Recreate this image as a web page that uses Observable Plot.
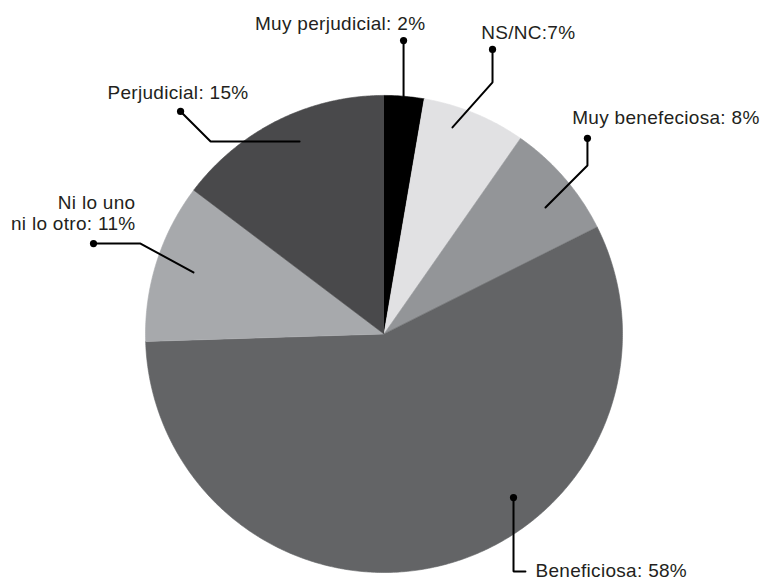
<!DOCTYPE html>
<html>
<head>
<meta charset="utf-8">
<script src="https://cdn.jsdelivr.net/npm/d3@7"></script>
<script src="https://cdn.jsdelivr.net/npm/@observablehq/plot@0.6"></script>
<style>
  html, body { margin: 0; padding: 0; background: #fff; }
  #chart svg { display: block; }
</style>
</head>
<body>
<div id="chart"></div>
<script>
// ---- data ----
const categories = ["Muy perjudicial", "NS/NC", "Muy benefeciosa", "Beneficiosa", "Ni lo uno ni lo otro", "Perjudicial"];
const shares = [2.7, 7.0, 7.9, 56.9, 10.8, 14.7];
const labels = ["Muy perjudicial: 2%", "NS/NC:7%", "Muy benefeciosa: 8%", "Beneficiosa: 58%", "Ni lo uno\nni lo otro: 11%", "Perjudicial: 15%"];
const colors = ["#000000", "#e1e1e3", "#939598", "#636466", "#a7a9ac", "#49494b"];

// label annotations, in pie units (radius = 1, centre = 0,0)
const labelAnchor = ["middle", "middle", "middle", "start", "end", "middle"];
const labelPos = [[-0.184, 1.273], [0.605, 1.238], [1.182, 0.881], [0.635, -1.017], [-1.042, 0.434], [-0.864, 0.983]];
const leaderPaths = [
  [[0.082, 1.230], [0.082, 0.996]],
  [[0.455, 1.193], [0.455, 1.055], [0.287, 0.866]],
  [[0.853, 0.820], [0.853, 0.706], [0.677, 0.530]],
  [[0.543, -0.686], [0.543, -0.996], [0.593, -0.996]],
  [[-1.218, 0.379], [-1.021, 0.379], [-0.799, 0.258]],
  [[-0.853, 0.933], [-0.727, 0.807], [-0.354, 0.807]]
];

// ---- geometry ----
const arcs = d3.pie().sort(null).value(d => d)(shares);
const slicePts = [];
arcs.forEach((a, i) => {
  slicePts.push({k: i, x: 0, y: 0, c: colors[i]});
  const n = Math.max(4, Math.ceil((a.endAngle - a.startAngle) / (Math.PI / 360)));
  for (let j = 0; j <= n; j++) {
    const t = a.startAngle + (a.endAngle - a.startAngle) * j / n;
    slicePts.push({k: i, x: Math.sin(t), y: Math.cos(t), c: colors[i]});
  }
});
const leaderPts = leaderPaths.flatMap((p, i) => p.map(([x, y]) => ({k: i, x, y})));
const dots = leaderPaths.map((p, i) => ({k: i, x: p[0][0], y: p[0][1]}));
const texts = labels.map((t, i) => ({t, a: labelAnchor[i], x: labelPos[i][0], y: labelPos[i][1]}));

const textStyle = {
  fontSize: 19, fill: "#231f20", lineAnchor: "bottom", lineHeight: 1.105,
  fontFamily: "Liberation Sans, Arial, sans-serif"
};

const chart = Plot.plot({
  width: 762,
  height: 580,
  margin: 0,
  x: {domain: [-1.608, 1.587], axis: null},
  y: {domain: [-1.0335, 1.398], axis: null},
  marks: [
    Plot.line(slicePts, {x: "x", y: "y", z: "k", fill: "c", stroke: "c", strokeWidth: 0.6, curve: "linear"}),
    Plot.line(leaderPts, {x: "x", y: "y", z: "k", stroke: "#000", strokeWidth: 2, strokeLinejoin: "miter"}),
    Plot.dot(dots, {x: "x", y: "y", r: 3.6, fill: "#000", stroke: "none"}),
    ...["middle", "start", "end"].map(a =>
      Plot.text(texts.filter(d => d.a === a), {x: "x", y: "y", text: "t", textAnchor: a, ...textStyle}))
  ]
});
chart.style.letterSpacing = "0.3px";
document.getElementById("chart").append(chart);
</script>
</body>
</html>
